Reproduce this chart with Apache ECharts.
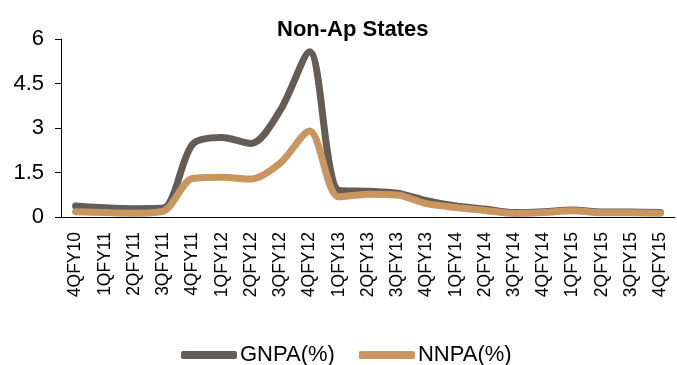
<!DOCTYPE html>
<html>
<head>
<meta charset="utf-8">
<script src="https://cdn.jsdelivr.net/npm/echarts@6/dist/echarts.min.js"></script>
<style>html,body{margin:0;padding:0;background:#fff;}#c{width:677px;height:365px;}</style>
</head>
<body>
<div id="c"></div>
<script>
const categories = ['4QFY10','1QFY11','2QFY11','3QFY11','4QFY11','1QFY12','2QFY12','3QFY12','4QFY12','1QFY13','2QFY13','3QFY13','4QFY13','1QFY14','2QFY14','3QFY14','4QFY14','1QFY15','2QFY15','3QFY15','4QFY15'];
const gnpa = [0.37, 0.31, 0.28, 0.3, 2.45, 2.68, 2.48, 3.6, 5.57, 0.9, 0.87, 0.8, 0.55, 0.37, 0.27, 0.15, 0.18, 0.24, 0.17, 0.17, 0.15];
const nnpa = [0.18, 0.15, 0.13, 0.2, 1.3, 1.34, 1.28, 1.82, 2.9, 0.68, 0.77, 0.74, 0.45, 0.32, 0.22, 0.12, 0.15, 0.21, 0.14, 0.14, 0.13];
const yTicks = {min: 0, max: 6, interval: 1.5};

const chart = echarts.init(document.getElementById('c'));
const font = "'Liberation Sans', Arial, sans-serif";
chart.setOption({
  animation: false,
  title: {
    text: 'Non-Ap States', left: 272, top: 14,
    textStyle: {fontFamily: font, fontSize: 22, fontWeight: 'bold', color: '#000'}
  },
  legend: {
    top: 339, left: 176, itemGap: 24, itemWidth: 56, itemHeight: 8,
    icon: 'roundRect',
    textStyle: {fontFamily: font, fontSize: 22, color: '#000', padding: [0,0,0,-2]},
    data: ['GNPA(%)', 'NNPA(%)']
  },
  grid: {left: 61, right: 2, top: 39, bottom: 148, containLabel: false},
  xAxis: {
    type: 'category', data: categories, boundaryGap: true,
    axisLine: {lineStyle: {color: '#000', width: 1}},
    axisTick: {alignWithLabel: false, length: 6, lineStyle: {color: '#000'}},
    axisLabel: {rotate: 90, interval: 0, margin: 15, fontFamily: font, fontSize: 17.5, color: '#000'}
  },
  yAxis: {
    type: 'value', min: yTicks.min, max: yTicks.max, interval: yTicks.interval,
    axisLine: {show: true, lineStyle: {color: '#000', width: 1}},
    axisTick: {show: true, length: 6, lineStyle: {color: '#000'}},
    splitLine: {show: false},
    axisLabel: {margin: 17, fontFamily: font, fontSize: 22, color: '#000'}
  },
  series: [
    {name: 'GNPA(%)', type: 'line', data: gnpa, smooth: 0.3, showSymbol: false,
     lineStyle: {color: '#645c57', width: 7, cap: 'round', join: 'round'}, itemStyle: {color: '#645c57'}},
    {name: 'NNPA(%)', type: 'line', data: nnpa, smooth: 0.3, showSymbol: false,
     lineStyle: {color: '#c99660', width: 7, cap: 'round', join: 'round'}, itemStyle: {color: '#c99660'}}
  ]
});
</script>
</body>
</html>
